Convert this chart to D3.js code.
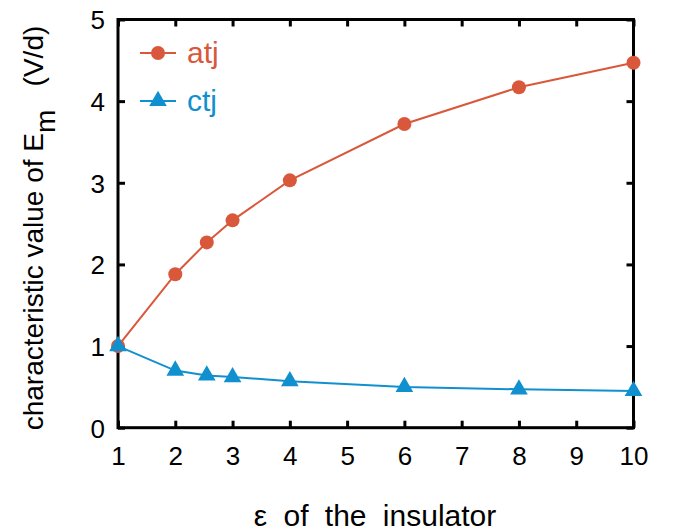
<!DOCTYPE html>
<html><head><meta charset="utf-8">
<script src="https://cdn.jsdelivr.net/npm/d3@7"></script>
<style>body{margin:0;background:#fff}svg{display:block}text{font-family:"Liberation Sans",Arial,sans-serif}</style>
</head><body><svg id="c" width="676" height="531"></svg>
<script>
const xAtj = [1, 2, 2.55, 3, 4, 6, 8, 10];
const atj  = [1.0, 1.88, 2.27, 2.54, 3.03, 3.72, 4.17, 4.47];
const xCtj = [1, 2, 2.55, 3, 4, 6, 8, 10];
const ctj  = [1.0, 0.70, 0.64, 0.62, 0.57, 0.50, 0.47, 0.45];
const xTicks = [1,2,3,4,5,6,7,8,9,10];
const yTicks = [0,1,2,3,4,5];
const seriesNames = ["atj","ctj"];
const red = "#d9583b", blue = "#1190cf";

const svg = d3.select("#c");
const L=118, R=633.5, T=19.5, B=427.7;
const x = d3.scaleLinear().domain([1,10]).range([L,R]);
const y = d3.scaleLinear().domain([0,5]).range([B,T]);

function axis(g, ax){ g.call(ax); g.select(".domain").remove(); g.selectAll("line").attr("stroke","#000").attr("stroke-width",3); }
svg.append("g").attr("transform",`translate(0,${B})`).call(g=>axis(g,d3.axisBottom(x).tickValues(xTicks).tickSize(-7).tickPadding(18).tickFormat(d3.format("d"))))
  .selectAll("text").attr("font-size",26).attr("fill","#000").attr("dy","0.75em");
svg.append("g").attr("transform",`translate(0,${T})`).call(g=>axis(g,d3.axisTop(x).tickValues(xTicks).tickSize(-7).tickFormat("")));
svg.append("g").attr("transform",`translate(${L},0)`).call(g=>axis(g,d3.axisLeft(y).tickValues(yTicks).tickSize(-7).tickPadding(13).tickFormat(d3.format("d"))))
  .selectAll("text").attr("font-size",26).attr("fill","#000").attr("dy","0.36em");
svg.append("g").attr("transform",`translate(${R},0)`).call(g=>axis(g,d3.axisRight(y).tickValues(yTicks).tickSize(-7).tickFormat("")));
svg.append("rect").attr("x",L).attr("y",T).attr("width",R-L).attr("height",B-T).attr("fill","none").attr("stroke","#000").attr("stroke-width",3);

const line = d3.line().x(d=>x(d[0])).y(d=>y(d[1]));
const dA = xAtj.map((v,i)=>[v,atj[i]]), dC = xCtj.map((v,i)=>[v,ctj[i]]);
svg.append("path").attr("d",line(dA)).attr("fill","none").attr("stroke",red).attr("stroke-width",2);
svg.selectAll(".pa").data(dA).join("circle").attr("cx",d=>x(d[0])).attr("cy",d=>y(d[1])).attr("r",7).attr("fill",red);
svg.append("path").attr("d",line(dC)).attr("fill","none").attr("stroke",blue).attr("stroke-width",2);
const tri = d3.symbol().type(d3.symbolTriangle).size(135);
svg.selectAll(".pc").data(dC).join("path").attr("d",tri).attr("transform",d=>`translate(${x(d[0])},${y(d[1])})`).attr("fill",blue);

// legend
const leg = [{n:seriesNames[0],c:red,y:53,m:"c"},{n:seriesNames[1],c:blue,y:101,m:"t"}];
leg.forEach(l=>{
  svg.append("line").attr("x1",140).attr("x2",176).attr("y1",l.y).attr("y2",l.y).attr("stroke",l.c).attr("stroke-width",2);
  if(l.m==="c") svg.append("circle").attr("cx",158).attr("cy",l.y).attr("r",7).attr("fill",l.c);
  else svg.append("path").attr("d",tri).attr("transform",`translate(158,${l.y})`).attr("fill",l.c);
  svg.append("text").attr("x",187).attr("y",l.y+10).attr("font-size",30).attr("fill",l.c).text(l.n);
});

svg.append("text").attr("x",375).attr("y",526).attr("text-anchor","middle").attr("font-size",30).attr("fill","#000")
  .attr("word-spacing","8").text("ε of the insulator");
const yl = svg.append("text").attr("transform","translate(43,228) rotate(-90)").attr("text-anchor","middle").attr("font-size",28).attr("fill","#000");
yl.append("tspan").text("characteristic value of E");
yl.append("tspan").attr("dy",12).text("m");
yl.append("tspan").attr("dy",-12).text("\u00a0\u00a0\u00a0(V/d)");
</script></body></html>
